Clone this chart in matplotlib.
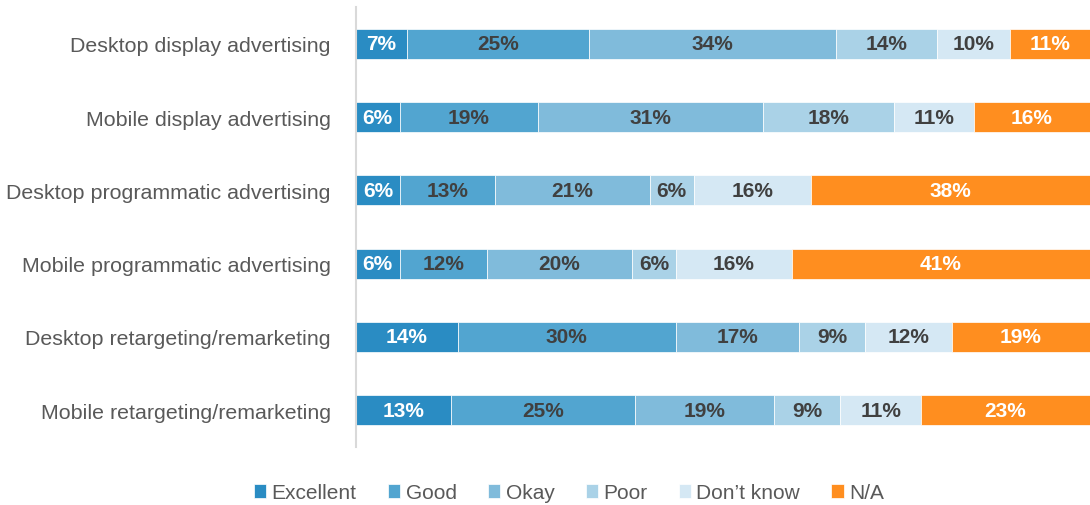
import matplotlib.pyplot as plt
import numpy as np

plt.rcParams['font.family'] = ['Liberation Sans', 'DejaVu Sans']

categories = [
    "Desktop display advertising",
    "Mobile display advertising",
    "Desktop programmatic advertising",
    "Mobile programmatic advertising",
    "Desktop retargeting/remarketing",
    "Mobile retargeting/remarketing",
]
ratings = ["Excellent", "Good", "Okay", "Poor", "Don\u2019t know", "N/A"]

excellent = [7, 6, 6, 6, 14, 13]
good = [25, 19, 13, 12, 30, 25]
okay = [34, 31, 21, 20, 17, 19]
poor = [14, 18, 6, 6, 9, 9]
dont_know = [10, 11, 16, 16, 12, 11]
na = [11, 16, 38, 41, 19, 23]

colors = ["#2a8cc3", "#52a5d0", "#80bbdb", "#aad2e7", "#d5e8f4", "#ff8e1f"]
text_colors = ["white", "#404040", "#404040", "#404040", "#404040", "white"]

series = np.array([excellent, good, okay, poor, dont_know, na], dtype=float)
# each bar spans the full width
shares = series / series.sum(axis=0) * 100

fig = plt.figure(figsize=(10.9, 5.06), dpi=100)
ax = fig.add_axes([0.3266, 0.1146, 0.6734, 0.8696])

y = np.arange(len(categories))
left = np.zeros(len(categories))
for i, name in enumerate(ratings):
    bars = ax.barh(y, shares[i], left=left, height=0.41, color=colors[i],
                   edgecolor="white", linewidth=0.5, label=name)
    for j, b in enumerate(bars):
        ax.text(left[j] + shares[i][j] / 2, y[j], f"{int(series[i][j])}%",
                ha="center", va="center", fontsize=15, fontweight="bold",
                color=text_colors[i])
    left += shares[i]

ax.set_xlim(0, 100)
ax.set_ylim(5.505, -0.505)
ax.set_yticks(y)
ax.set_yticklabels(categories, fontsize=15.4, color="#595959")
ax.tick_params(axis="y", length=0, pad=18)
ax.set_xticks([])
for s in ["top", "right", "bottom"]:
    ax.spines[s].set_visible(False)
ax.spines["left"].set_color("#d9d9d9")
ax.spines["left"].set_linewidth(1.5)

leg = fig.legend(loc="center", bbox_to_anchor=(0.522, 0.024), ncol=6, frameon=False,
                 fontsize=15, handlelength=0.6, handleheight=0.6, handletextpad=0.25,
                 columnspacing=1.5, labelcolor="#595959")

fig.savefig("out.png", dpi=100)
